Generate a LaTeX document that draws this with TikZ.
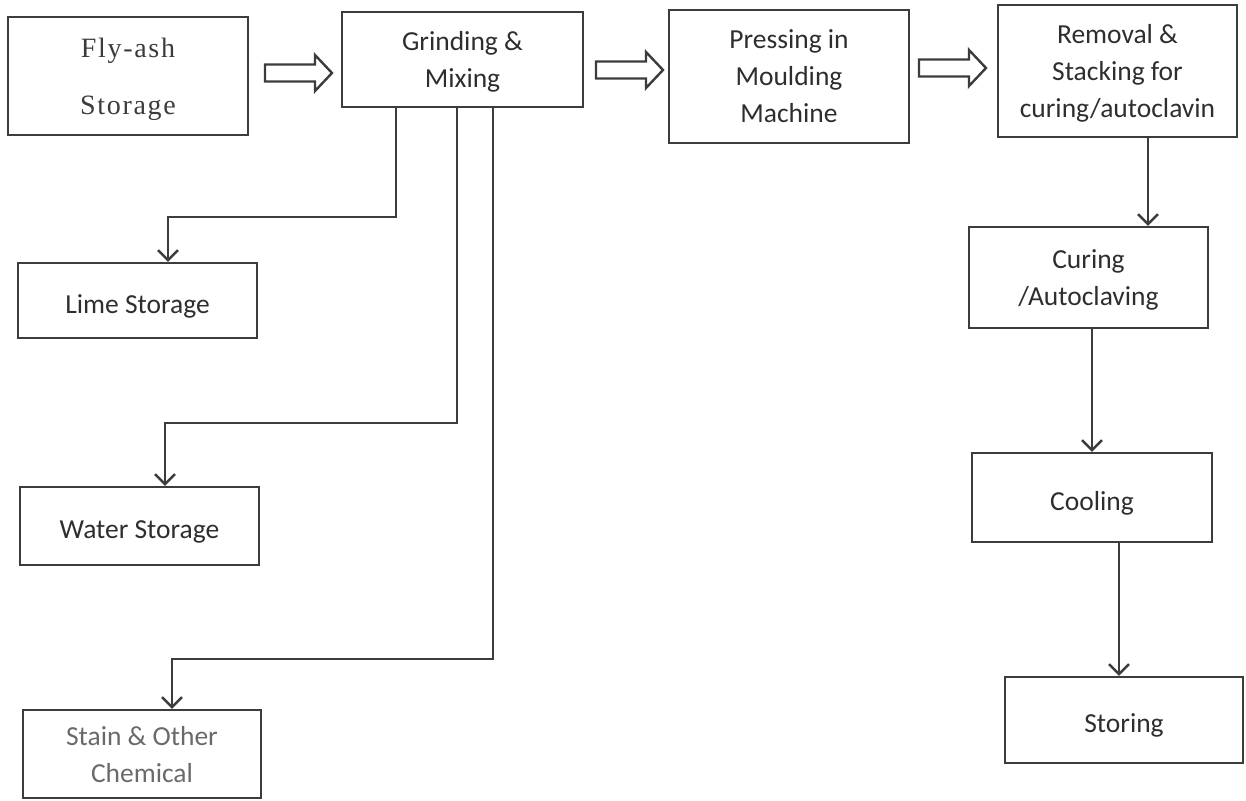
\documentclass[tikz,border=0pt]{standalone}
\usepackage{fontspec}
\setmainfont{Carlito}
\newfontfamily\flyfont{Liberation Serif}[LetterSpace=6]
\usetikzlibrary{arrows.meta,calc}
\definecolor{linec}{HTML}{3C3C3C}
\definecolor{textc}{HTML}{2E2E2E}
\definecolor{lightc}{HTML}{6A6A6A}
\tikzset{
  box/.style={draw=linec, line width=2.4pt, inner sep=0pt, align=center,
    text=textc, text depth=0pt, font=\fontsize{27.5}{37}\selectfont,
    execute at begin node={\rule{0pt}{28.5pt}}},
  onebox/.style={box, text height=25pt, text depth=0pt},
  conn/.style={draw=linec, line width=2.4pt,
    -{Straight Barb[length=10pt,width=20pt]}},
  blockarrow/.pic={\draw[draw=linec, line width=2.4pt, line join=miter]
    (0,-8.5) -- (50,-8.5) -- (50,-18) -- (67,0) -- (50,18) -- (50,8.5) -- (0,8.5) -- cycle;}
}
\begin{document}
\begin{tikzpicture}[x=1pt,y=-1pt]
\useasboundingbox (0,0) rectangle (1246,800);
% process boxes
\node[box, minimum width=240, minimum height=118,
      font=\flyfont\fontsize{28}{57}\selectfont, text=linec] (fly) at (128,76) {Fly-ash\\Storage};
\node[box, minimum width=241, minimum height=95] (grind) at (462.5,59.5) {Grinding \&\\Mixing};
\node[box, minimum width=240, minimum height=133] (press) at (789,76.5) {Pressing in\\Moulding\\Machine};
\node[box, minimum width=239, minimum height=132] (remove) at (1117.5,71) {Removal \&\\Stacking for\\curing/autoclavin};
\node[box, minimum width=239, minimum height=101] (curing) at (1088.5,277.5) {Curing\\/Autoclaving};
\node[onebox, minimum width=240, minimum height=89] (cooling) at (1092,497.5) {Cooling};
\node[onebox, minimum width=238, minimum height=86] (storing) at (1124,720) {Storing};
% input boxes
\node[onebox, minimum width=239, minimum height=75] (lime) at (137.5,300.5) {Lime Storage};
\node[onebox, minimum width=239, minimum height=78] (water) at (139.5,526) {Water Storage};
\node[box, minimum width=238, minimum height=88, text=lightc] (stain) at (142,754) {Stain \& Other\\Chemical};
% block arrows
\pic at (265,73) {blockarrow};
\pic at (596,70) {blockarrow};
\pic at (919,68) {blockarrow};
% routing coordinates
\coordinate (xa) at (396,0);
\coordinate (xb) at (457,0);
\coordinate (xc) at (493,0);
\coordinate (ya) at (0,217);
\coordinate (yb) at (0,423);
\coordinate (yc) at (0,659);
\coordinate (la) at (168,0);
\coordinate (lb) at (165,0);
\coordinate (lc) at (172,0);
\coordinate (ra) at (1148,0);
\coordinate (rb) at (1092,0);
\coordinate (rc) at (1119,0);
% connectors
\draw[conn] (grind.south -| xa) |- (ya -| la) -- (lime.north -| la);
\draw[conn] (grind.south -| xb) |- (yb -| lb) -- (water.north -| lb);
\draw[conn] (grind.south -| xc) |- (yc -| lc) -- (stain.north -| lc);
\draw[conn] (remove.south -| ra) -- (curing.north -| ra);
\draw[conn] (curing.south -| rb) -- (cooling.north -| rb);
\draw[conn] (cooling.south -| rc) -- (storing.north -| rc);
\end{tikzpicture}
\end{document}
